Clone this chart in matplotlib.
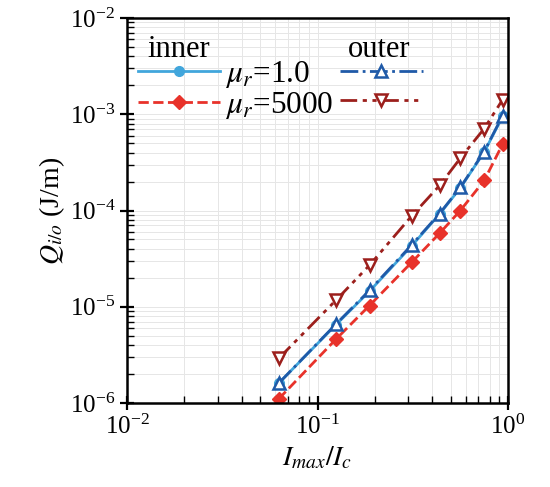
import numpy as np
import matplotlib.pyplot as plt

plt.rcParams["font.family"] = ["Liberation Serif", "DejaVu Serif"]
plt.rcParams["mathtext.fontset"] = "stix"

# current ratio I_max / I_c
ratio = [0.0625, 0.125, 0.1875, 0.3125, 0.4375, 0.5625, 0.75, 0.9375]

# losses Q (J/m)
inner_mu1 = [1.6e-6, 6.5e-6, 1.45e-5, 4.3e-5, 9.2e-5, 1.72e-4, 4.05e-4, 9.5e-4]
inner_mu5000 = [1.1e-6, 4.6e-6, 1.03e-5, 2.9e-5, 5.8e-5, 1.0e-4, 2.05e-4, 4.9e-4]
outer_mu1 = [1.6e-6, 6.6e-6, 1.48e-5, 4.4e-5, 9.3e-5, 1.74e-4, 4.1e-4, 9.7e-4]
outer_mu5000 = [2.9e-6, 1.17e-5, 2.7e-5, 8.8e-5, 1.82e-4, 3.5e-4, 7.1e-4, 1.42e-3]

legend_labels = [r"$\mu_r$=1.0", r"$\mu_r$=5000", "", ""]


def main():
    fig = plt.figure(figsize=(5.5, 4.87), dpi=100)
    ax = fig.add_axes([127 / 550, 1 - 403 / 487, 381 / 550, 385 / 487])

    l1, = ax.plot(ratio, inner_mu1, "-", color="#41a6dc", lw=2,
                  marker="o", ms=7)
    l2, = ax.plot(ratio, inner_mu5000, "--", color="#e8322a", lw=2,
                  marker="D", ms=7)
    l3, = ax.plot(ratio, outer_mu1, "-.", color="#1f5aa8", lw=2,
                  marker="^", ms=8, mfc="white", mew=1.8)
    l4, = ax.plot(ratio, outer_mu5000, color="#9c1f1c", lw=2,
                  dashes=[6, 2, 1.5, 2, 1.5, 2], marker="v", ms=8,
                  mfc="white", mew=1.8)

    ax.set_xscale("log")
    ax.set_yscale("log")
    ax.set_xlim(1e-2, 1)
    ax.set_ylim(1e-6, 1e-2)

    ax.grid(True, which="both", color="#e6e6e6", lw=0.7)
    ax.set_axisbelow(True)
    ax.tick_params(which="major", direction="inout", length=10, width=1.6,
                   labelsize=18)
    ax.tick_params(which="minor", direction="in", length=5, width=1)
    for s in ax.spines.values():
        s.set_linewidth(1.8)

    ax.set_xlabel(r"$I_{max}/I_c$", fontsize=20)
    ax.set_ylabel(r"$Q_{i/o}$ (J/m)", fontsize=20, labelpad=2)

    ax.legend([l1, l2, l3, l4], legend_labels, ncol=2, loc="upper left",
              bbox_to_anchor=(-0.005, 0.925), frameon=False, fontsize=22.5,
              handlelength=2.65, handletextpad=0.15, columnspacing=0.2,
              labelspacing=0.0, borderaxespad=0)
    ax.text(0.136, 0.917, "inner", transform=ax.transAxes, fontsize=22,
            ha="center", va="center")
    ax.text(0.661, 0.917, "outer", transform=ax.transAxes, fontsize=22,
            ha="center", va="center")

    fig.savefig("out.png", dpi=100)


if __name__ == "__main__":
    main()
